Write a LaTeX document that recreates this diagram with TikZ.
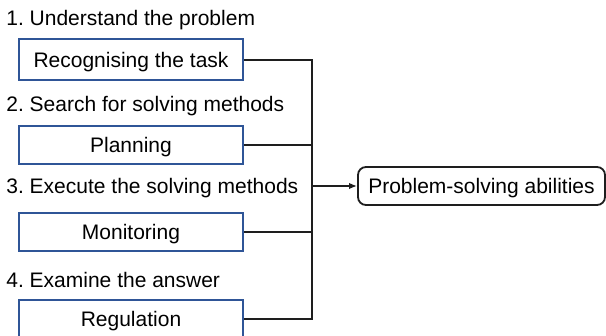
\documentclass[tikz,border=0pt]{standalone}
\usepackage{fontspec}
\setmainfont{Liberation Sans}
\usepackage{tikz}
\usetikzlibrary{arrows.meta}
\usepackage{xcolor}
\definecolor{boxblue}{RGB}{47,85,151}
\definecolor{inkgrey}{RGB}{30,30,30}
\frenchspacing

\begin{document}
\begin{tikzpicture}[x=0.5pt, y=-0.5pt,
    font=\fontsize{10.5pt}{12pt}\selectfont,
    every node/.style={text height=7.5pt, text depth=0pt},
    stagebox/.style={draw=boxblue, line width=1pt, minimum width=112pt,
      minimum height=19pt, inner sep=0pt},
    stagelabel/.style={anchor=west, inner sep=0pt},
    link/.style={draw=inkgrey, line width=0.9pt}]
    \useasboundingbox (0,0) rectangle (606,336);

    % ── Stage headings ────────────────────────────────────────────────
    \node[stagelabel] (head1) at (6,18.5)  {1. Understand the problem};
    \node[stagelabel] (head2) at (6,104.5) {2. Search for solving methods};
    \node[stagelabel] (head3) at (6,186)   {3. Execute the solving methods};
    \node[stagelabel] (head4) at (6,280)   {4. Examine the answer};

    % ── Steps under each stage ────────────────────────────────────────
    \node[stagebox, minimum height=20.5pt] (recog) at (131,60) {Recognising the task};
    \node[stagebox] (plan)  at (131,145) {Planning};
    \node[stagebox] (monit) at (131,232) {Monitoring};
    \node[stagebox] (regul) at (131,319) {Regulation};

    % ── Outcome ───────────────────────────────────────────────────────
    \node[draw=inkgrey, line width=0.9pt, rounded corners=4pt,
      minimum width=123.5pt, minimum height=19pt, inner sep=0pt]
      (abil) at (481.5,186) {Problem-solving abilities};

    % Collecting line and arrow
    \coordinate (bus) at (312,186);
    \foreach \st in {recog,plan,monit,regul}{
      \draw[link] (\st.east) -| (bus);
    }
    \draw[link,-{Latex[length=4pt,width=3.2pt]}] (bus) -- (abil);
  \end{tikzpicture}
\end{document}
